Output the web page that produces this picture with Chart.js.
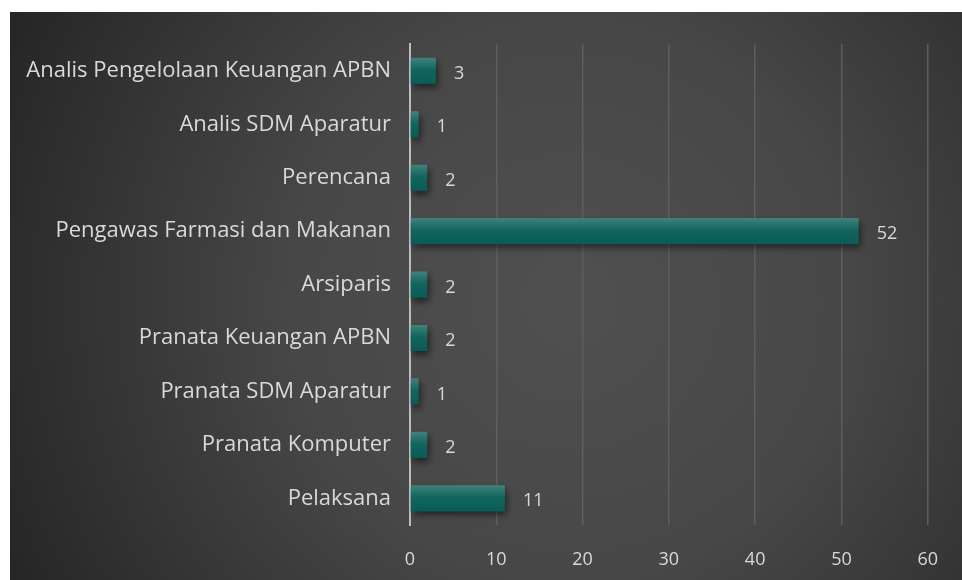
<!DOCTYPE html>
<html>
<head>
<meta charset="utf-8">
<script src="https://cdn.jsdelivr.net/npm/chart.js@4.4.1/dist/chart.umd.min.js"></script>
<style>
    html, body { margin: 0; padding: 0; background: #ffffff; }
    #wrap { position: absolute; left: 10px; top: 12px; width: 952px; height: 568px; }
</style>
</head>
<body>
<div id="wrap"><canvas id="jabatan-chart"></canvas></div>
<script>
(function () {
    "use strict";

    // Data
    const categories = [
        "Analis Pengelolaan Keuangan APBN",
        "Analis SDM Aparatur",
        "Perencana",
        "Pengawas Farmasi dan Makanan",
        "Arsiparis",
        "Pranata Keuangan APBN",
        "Pranata SDM Aparatur",
        "Pranata Komputer",
        "Pelaksana",
    ];
    const jumlah = [3, 1, 2, 52, 2, 2, 1, 2, 11];
    const xTicks = [0, 10, 20, 30, 40, 50, 60];

    const FONT = "'Open Sans', 'DejaVu Sans', sans-serif";
    const TEXT = "#d9d9d9";

    // dark radial background
    const backdrop = {
        id: "backdrop",
        beforeDraw(chart) {
            const { ctx, width, height } = chart;
            const g = ctx.createRadialGradient(560, 290, 0, 560, 290, 620);
            g.addColorStop(0, "#505050");
            g.addColorStop(0.45, "#474747");
            g.addColorStop(1, "#262626");
            ctx.save();
            ctx.fillStyle = g;
            ctx.fillRect(0, 0, width, height);
            ctx.restore();
        },
    };

    // soft shadow under the bars
    const barShadow = {
        id: "barShadow",
        beforeDatasetDraw(chart) {
            const ctx = chart.ctx;
            ctx.save();
            ctx.shadowColor = "rgba(0,0,0,0.55)";
            ctx.shadowBlur = 7;
            ctx.shadowOffsetX = 2;
            ctx.shadowOffsetY = 4;
        },
        afterDatasetDraw(chart) {
            chart.ctx.restore();
        },
    };

    // value labels at the end of each bar
    const valueLabels = {
        id: "valueLabels",
        afterDatasetsDraw(chart) {
            const ctx = chart.ctx;
            const meta = chart.getDatasetMeta(0);
            ctx.save();
            ctx.fillStyle = TEXT;
            ctx.font = "18px " + FONT;
            ctx.textAlign = "left";
            ctx.textBaseline = "middle";
            meta.data.forEach((bar, i) => {
                ctx.fillText(String(jumlah[i]), bar.x + 18, bar.y + 3);
            });
            ctx.restore();
        },
    };

    function barGradient(context) {
        const chart = context.chart;
        const y = chart.scales.y;
        if (!y || y.top === undefined) return "#0e655f";
        const cy = y.getPixelForValue(context.dataIndex);
        const half = 13;
        const g = chart.ctx.createLinearGradient(0, cy - half, 0, cy + half);
        g.addColorStop(0, "#42817b");
        g.addColorStop(0.45, "#12665f");
        g.addColorStop(1, "#0a5b55");
        return g;
    }

    new Chart(document.getElementById("jabatan-chart"), {
        type: "bar",
        data: {
            labels: categories,
            datasets: [
                {
                    label: "Jumlah",
                    data: jumlah,
                    backgroundColor: barGradient,
                    borderWidth: 0,
                    categoryPercentage: 0.49,
                    barPercentage: 1,
                },
            ],
        },
        options: {
            indexAxis: "y",
            responsive: true,
            maintainAspectRatio: false,
            animation: false,
            layout: {
                padding: { top: 29, right: 34, left: 0, bottom: 0 },
            },
            plugins: {
                legend: { display: false },
                tooltip: { enabled: false },
            },
            scales: {
                x: {
                    min: 0,
                    max: 60,
                    afterBuildTicks(scale) {
                        scale.ticks = xTicks.map((v) => ({ value: v }));
                    },
                    afterFit(scale) {
                        scale.height = 55;
                    },
                    ticks: {
                        color: TEXT,
                        padding: 24,
                        font: { family: FONT, size: 18 },
                    },
                    grid: {
                        color: (c) => (c.tick && c.tick.value === 0 ? "rgba(0,0,0,0)" : "#5e5e5e"),
                        lineWidth: 1.5,
                        drawTicks: false,
                    },
                    border: { display: false },
                },
                y: {
                    afterFit(scale) {
                        scale.width = 400;
                    },
                    ticks: {
                        color: TEXT,
                        padding: 19,
                        font: { family: FONT, size: 22 },
                    },
                    grid: { display: false, drawTicks: false },
                    border: { display: true, color: "#bdbdbd", width: 2 },
                },
            },
        },
        plugins: [backdrop, barShadow, valueLabels],
    });
})();
</script>
</body>
</html>
